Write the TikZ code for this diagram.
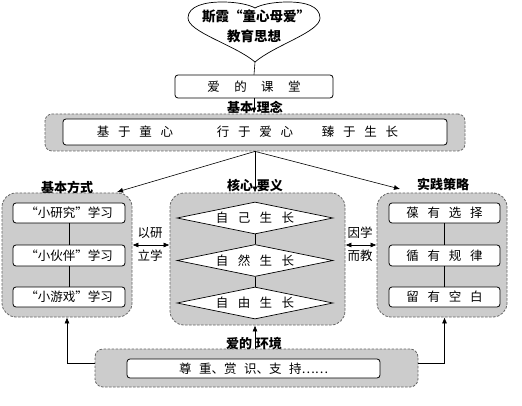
\documentclass[tikz,border=0pt]{standalone}
\usepackage{fontspec}
\newfontfamily\cjk{Noto Sans CJK SC}
\usetikzlibrary{arrows.meta,shapes.geometric}
\newcommand\myg{\hspace{0.7em}}
\begin{document}
\begin{tikzpicture}[x=1pt,y=-1pt,
  every node/.style={font=\cjk\fontsize{12.5}{14}\selectfont, inner sep=0pt},
  graybox/.style={draw=black!60, dash pattern=on 2.5pt off 1.5pt, fill=black!20, line width=0.8pt},
  whitebox/.style={draw=black, fill=white, rounded corners=3pt, line width=0.8pt},
  dia/.style={draw=black, fill=white, diamond, aspect=4.875, minimum width=156pt, minimum height=32pt, line width=0.7pt},
  lbl/.style={font=\cjk\bfseries\fontsize{13}{15}\selectfont},
  tip/.style={-{Latex[length=6pt,width=5pt]}, line width=0.6pt},
  dtip/.style={{Latex[length=6pt,width=5pt]}-{Latex[length=6pt,width=5pt]}, line width=0.6pt},
  ln/.style={line width=0.6pt}]
\useasboundingbox (0,0) rectangle (522,406);

% heart
\draw[line width=0.7pt, fill=white] (255,62) .. controls (235,45) and (188,32) .. (188,18)
  .. controls (188,6) and (205,2) .. (222,2) .. controls (238,2) and (250,5) .. (255,8)
  .. controls (260,5) and (272,2) .. (288,2) .. controls (305,2) and (320,6) .. (320,18)
  .. controls (320,32) and (275,45) .. (255,62) -- cycle;
\coordinate (hb) at (255,62);
\node[lbl, font=\cjk\bfseries\fontsize{13.5}{15}\selectfont] (h1) at (256,16) {斯霞“童心母爱”};
\node[lbl, font=\cjk\bfseries\fontsize{13.5}{15}\selectfont] (h2) at (254,36) {教育思想};

% love classroom
\node[whitebox, minimum width=158pt, minimum height=23pt] (love) at (254,86.5) {爱\hspace{1.15em}的\hspace{1.15em}课\hspace{1.15em}堂};
\draw[ln] (hb) -- (love.north);

% top concept box
\node[graybox, rounded corners=7pt, minimum width=420pt, minimum height=37pt] (top) at (255,132.5) {};
\node[whitebox, minimum width=384pt, minimum height=26pt] (topin) at (255,132) {};
\node (t1) at (135,132) {基\myg 于\myg 童\myg 心};
\node (t2) at (255,132) {行\myg 于\myg 爱\myg 心};
\node (t3) at (360,132) {臻\myg 于\myg 生\myg 长};
\draw[tip] (love.south) -- (love.south |- top.north);
\node[lbl] (lb1) at (255,107) {基本\hspace{4pt}理念};

% left box
\node[graybox, rounded corners=14pt, minimum width=130pt, minimum height=124pt] (Lg) at (67,255) {};
\node[whitebox, minimum width=112pt, minimum height=20pt] (L1) at (69,213) {“小研究”学习};
\node[whitebox, minimum width=112pt, minimum height=21pt] (L2) at (69,255.5) {“小伙伴”学习};
\node[whitebox, minimum width=112pt, minimum height=20pt] (L3) at (69,297) {“小游戏”学习};
\draw[ln] (L1.south) -- (L2.north);
\draw[ln] (L2.south) -- (L3.north);
\node[lbl] (lb2) at (67,187) {基本方式};

% middle box
\node[graybox, rounded corners=14pt, minimum width=175pt, minimum height=132pt] (Mg) at (257.5,259) {};
\node[dia] (D1) at (255,218) {自\hspace{0.75em}己\hspace{0.75em}生\hspace{0.75em}长};
\node[dia] (D2) at (255,260.5) {自\hspace{0.75em}然\hspace{0.75em}生\hspace{0.75em}长};
\node[dia] (D3) at (255,303) {自\hspace{0.75em}由\hspace{0.75em}生\hspace{0.75em}长};
\draw[ln] (D1.south) -- (D2.north);
\draw[ln] (D2.south) -- (D3.north);
\node[lbl] (lb3) at (255,186) {核心\hspace{4pt}要义};

% right box
\node[graybox, rounded corners=14pt, minimum width=130pt, minimum height=124pt] (Rg) at (442,255) {};
\node[whitebox, minimum width=111pt, minimum height=20pt] (R1) at (444.5,213) {葆\myg 有\myg 选\myg 择};
\node[whitebox, minimum width=111pt, minimum height=21pt] (R2) at (444.5,255.5) {循\myg 有\myg 规\myg 律};
\node[whitebox, minimum width=111pt, minimum height=20pt] (R3) at (444.5,297) {留\myg 有\myg 空\myg 白};
\draw[ln] (R1.south) -- (R2.north);
\draw[ln] (R2.south) -- (R3.north);
\node[lbl] (lb4) at (443,184) {实践策略};

% arrows from top box
\coordinate (Lend) at (117,192);
\coordinate (Rend) at (400,189);
\draw[tip] (top.south) -- (Lend);
\draw[tip] (top.south) -- (top.south |- Mg.north);
\draw[tip] (top.south) -- (Rend);

% double arrows
\coordinate (ya) at (0,245);
\draw[dtip] (Lg.east |- ya) -- (Mg.west |- ya);
\draw[dtip] (Mg.east |- ya) -- (Rg.west |- ya);
\node (m1) at (150,233) {以研};
\node (m2) at (150,256) {立学};
\node (m3) at (360,233) {因学};
\node (m4) at (360,256) {而教};

% bottom environment
\node[graybox, rounded corners=8pt, minimum width=323pt, minimum height=38pt] (Bg) at (256.5,368) {};
\node[whitebox, minimum width=253pt, minimum height=19pt] (Bin) at (253.5,368.5) {尊\hspace{0.6em}重、赏\hspace{0.6em}识、支\hspace{0.6em}持……};
\draw[tip] (Bg.north -| D3.south) -- (Mg.south -| D3.south);
\node[lbl] (lb5) at (254,344) {爱的\hspace{4pt}环境};
\coordinate (bl) at (95,363);
\coordinate (br) at (418,363);
\draw[tip] (bl) -| (Lg.south);
\draw[tip] (br) -| (Rg.south -| R3.south);
\end{tikzpicture}
\end{document}
